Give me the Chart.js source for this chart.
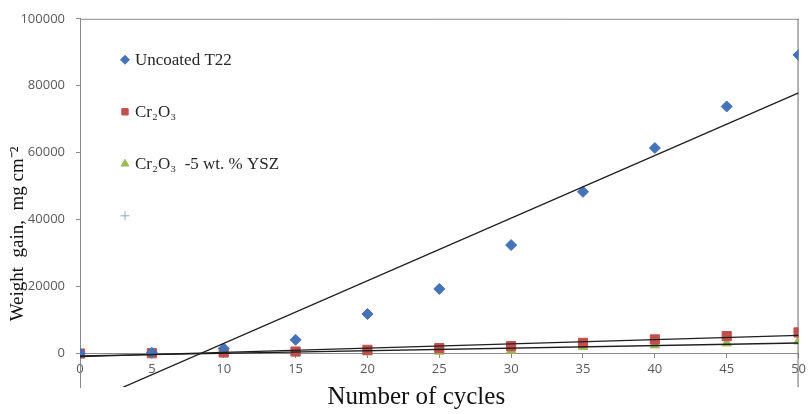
<!DOCTYPE html>
<html>
<head>
<meta charset="utf-8">
<script src="https://cdn.jsdelivr.net/npm/chart.js@4/dist/chart.umd.min.js"></script>
<style>
  html, body { margin: 0; padding: 0; background: #fff; }
  canvas { display: block; }
</style>
</head>
<body>
<canvas id="c" width="810" height="414"></canvas>
<script>
// ---- data ----
const cycles = [0, 5, 10, 15, 20, 25, 30, 35, 40, 45, 50];
const uncoatedT22 = [0, 200, 1500, 4100, 11800, 19300, 32400, 48300, 61400, 73800, 89200];
const cr2o3 = [0, 100, 300, 600, 1100, 1600, 2200, 3200, 4200, 5200, 6300];
const cr2o3Ysz = [0, 50, 100, 200, 400, 600, 900, 2000, 2500, 3100, 3700];
const yTickValues = [0, 20000, 40000, 60000, 80000, 100000];
const legendLabels = ['Uncoated T22', 'Cr\u2082O\u2083', 'Cr\u2082O\u2083  -5 wt. % YSZ', ''];
const xTitle = 'Number of cycles';
const yTitle = 'Weight  gain,  mg cm\u207B\u00B2';

function pts(xs, ys) { return xs.map((x, i) => ({ x: x, y: ys[i] })); }
function trend(xs, ys) {
  const n = xs.length;
  const mx = xs.reduce((a, b) => a + b, 0) / n;
  const my = ys.reduce((a, b) => a + b, 0) / n;
  let sxy = 0, sxx = 0;
  for (let i = 0; i < n; i++) { sxy += (xs[i] - mx) * (ys[i] - my); sxx += (xs[i] - mx) ** 2; }
  const b = sxy / sxx, a = my - b * mx;
  return [xs[0], xs[n - 1]].map(x => ({ x: x, y: a + b * x }));
}

const trendStyle = { type: 'line', showLine: true, borderColor: '#1e1e1e', borderWidth: 1.3, pointRadius: 0, fill: false, order: 0 };

const markerSets = [
  { label: legendLabels[0], data: pts(cycles, uncoatedT22), pointStyle: 'rectRot', pointRadius: 5.5, backgroundColor: '#4673B8', borderColor: '#4673B8', order: 1 },
  { label: legendLabels[1], data: pts(cycles, cr2o3), pointStyle: 'rect', pointRadius: 6.5, backgroundColor: '#C0504D', borderColor: '#C0504D', order: 1 },
  { label: legendLabels[2], data: pts(cycles, cr2o3Ysz), pointStyle: 'triangle', pointRadius: 5.5, backgroundColor: '#9BBB59', borderColor: '#9BBB59', order: 1 },
  { label: legendLabels[3], data: [], pointStyle: 'cross', pointRadius: 5, backgroundColor: '#8FA6CE', borderColor: '#8FA6CE', borderWidth: 1, order: 1 }
];

const datasets = [
  Object.assign({ label: 'trend1', data: trend(cycles, uncoatedT22) }, trendStyle),
  Object.assign({ label: 'trend2', data: trend(cycles, cr2o3) }, trendStyle),
  Object.assign({ label: 'trend3', data: trend(cycles, cr2o3Ysz) }, trendStyle),
  ...markerSets
];

const decor = {
  id: 'decor',
  beforeDatasetsDraw(chart) {
    const { ctx, chartArea: a } = chart;
    ctx.save();
    ctx.strokeStyle = '#8a8a8a';
    ctx.lineWidth = 1;
    ctx.beginPath();
    ctx.moveTo(a.left, a.top + 0.5);
    ctx.lineTo(a.right, a.top + 0.5);
    ctx.stroke();
    ctx.strokeStyle = '#6a6a6a';
    ctx.beginPath();
    ctx.moveTo(a.right - 0.5, a.top);
    ctx.lineTo(a.right - 0.5, a.bottom);
    ctx.stroke();
    ctx.restore();
  },
  afterDraw(chart) {
    const { ctx, chartArea: a } = chart;
    ctx.save();
    // legend inside plot
    const lx = a.left + 45, ly0 = a.top + 41, step = 52;
    markerSets.forEach((ds, i) => {
      const y = ly0 + i * step;
      ctx.fillStyle = ds.backgroundColor;
      ctx.strokeStyle = ds.borderColor;
      ctx.lineWidth = 1;
      Chart.helpers.drawPoint(ctx, { pointStyle: ds.pointStyle, radius: 4.5, rotation: 0, borderWidth: 1 }, lx, y);
      ctx.fillStyle = '#262626';
      ctx.font = '17px "Liberation Serif", serif';
      ctx.textBaseline = 'middle';
      ctx.textAlign = 'left';
      ctx.fillText(ds.label, lx + 10, y + 1);
    });
    // x title
    ctx.fillStyle = '#111';
    ctx.font = '25px "Liberation Serif", serif';
    ctx.textAlign = 'center';
    ctx.textBaseline = 'alphabetic';
    ctx.fillText(xTitle, (a.left + a.right) / 2 - 23, a.bottom + 17);
    // y title
    ctx.translate(a.left - 62, (a.top + a.bottom) / 2 + 31);
    ctx.rotate(-Math.PI / 2);
    ctx.font = '19px "Liberation Serif", serif';
    ctx.textBaseline = 'middle';
    ctx.fillText(yTitle, 0, 0);
    ctx.restore();
  }
};

new Chart(document.getElementById('c'), {
  type: 'scatter',
  data: { datasets: datasets },
  options: {
    responsive: false,
    animation: false,
    layout: { padding: { left: 0, top: 17, right: 2, bottom: 27 } },
    plugins: { legend: { display: false }, tooltip: { enabled: false }, title: { display: false } },
    scales: {
      x: {
        type: 'linear', position: { y: 0 }, min: 0, max: 50,
        ticks: { stepSize: 5, color: '#595959', font: { family: '"Open Sans", sans-serif', size: 13 }, padding: 4, maxRotation: 0, autoSkip: false },
        grid: { display: true, drawOnChartArea: false, drawTicks: true, tickLength: 4, color: '#8a8a8a' },
        border: { display: true, color: '#8a8a8a', width: 1 }
      },
      y: {
        type: 'linear', position: 'left', min: -10000, max: 100000,
        afterBuildTicks(scale) { scale.ticks = yTickValues.map(v => ({ value: v })); },
        afterFit(scale) { scale.width = 80; },
        ticks: { color: '#595959', font: { family: '"Open Sans", sans-serif', size: 13 }, padding: 11, callback: v => String(v) },
        grid: { display: true, drawOnChartArea: false, drawTicks: true, tickLength: 4, color: '#8a8a8a' },
        border: { display: true, color: '#8a8a8a', width: 1 }
      }
    }
  },
  plugins: [decor]
});
</script>
</body>
</html>
